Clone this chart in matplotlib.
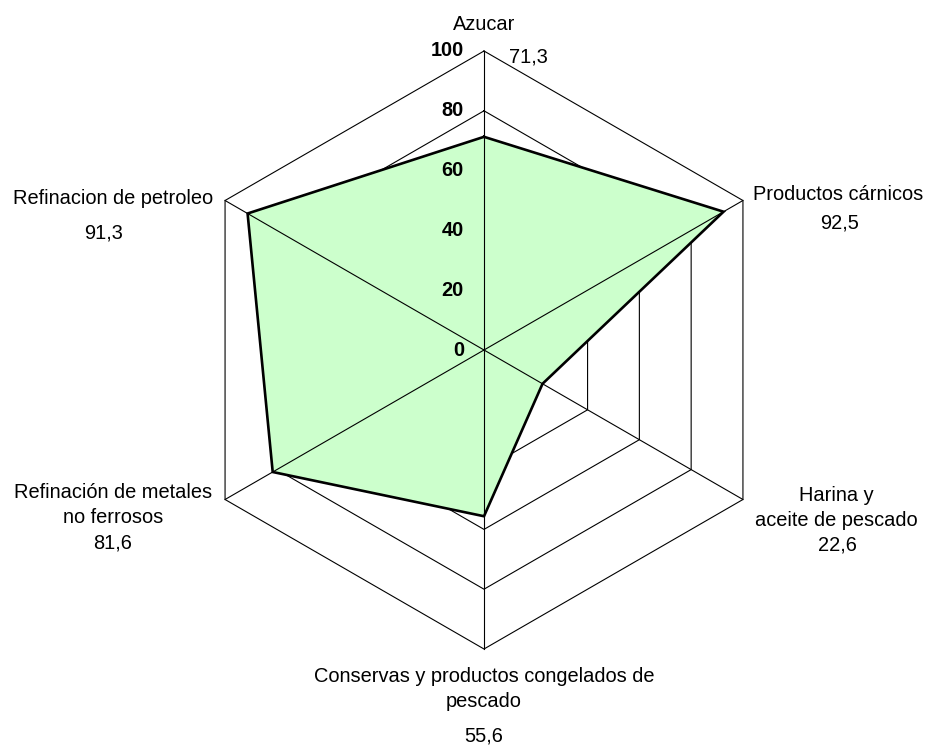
import numpy as np
import matplotlib
matplotlib.use("Agg")
import matplotlib.pyplot as plt

plt.rcParams['font.family'] = ['Liberation Sans', 'DejaVu Sans']

categories = ["Azucar", "Productos cárnicos", "Harina y\naceite de pescado",
              "Conservas y productos congelados de\npescado",
              "Refinación de metales\nno ferrosos", "Refinacion de petroleo"]
values = [71.3, 92.5, 22.6, 55.6, 81.6, 91.3]
value_labels = ["71,3", "92,5", "22,6", "55,6", "81,6", "91,3"]
ring_levels = [20, 40, 60, 80, 100]
radial_ticks = [0, 20, 40, 60, 80, 100]

W, H = 930, 747
cx, cy = 484, 350          # centre in pixels (from top)
s = 2.99                   # pixels per unit

fig = plt.figure(figsize=(W / 100, H / 100), dpi=100)
ax = fig.add_axes([0, 0, 1, 1])
ax.set_xlim(-cx / s, (W - cx) / s)
ax.set_ylim(-(H - cy) / s, cy / s)
ax.axis('off')

n = len(categories)
ang = np.deg2rad(90 - 360 / n * np.arange(n))
cosa, sina = np.cos(ang), np.sin(ang)

# rings
for r in ring_levels:
    xs = np.append(r * cosa, r * cosa[0])
    ys = np.append(r * sina, r * sina[0])
    ax.plot(xs, ys, color='black', lw=0.8, zorder=1)

# fill
v = np.array(values)
px = v * cosa
py = v * sina
ax.fill(px, py, color='#CCFFCC', zorder=2, lw=0)

# spokes
for c, sn in zip(cosa, sina):
    ax.plot([0, 100 * c], [0, 100 * sn], color='black', lw=0.8, zorder=3)

# outline
ax.plot(np.append(px, px[0]), np.append(py, py[0]), color='black', lw=1.9,
        zorder=4, solid_joinstyle='miter')

fs = 14.4

def P(xp, yp):
    return ((xp - cx) / s, (cy - yp) / s)

# radial tick labels
for t in radial_ticks:
    x, y = P(464, cy - t * s)
    ax.text(x, y, str(t), ha='right', va='center', fontsize=fs,
            fontweight='bold', zorder=5)

# category labels: (centre x, first line y) in pixels, value label position
cat_pos = [
    (484, 25),
    (838, 195),
    (836, 495),
    (484, 676),
    (113, 492),
    (113, 198),
]
val_pos = [
    (528, 57),
    (840, 223),
    (837, 545),
    (484, 736),
    (113, 543),
    (104, 233),
]
line_gap = 25.5
for lab, (xp, yp), vl, (vx, vy) in zip(categories, cat_pos, value_labels, val_pos):
    for k, line in enumerate(lab.split("\n")):
        x, y = P(xp, yp + k * line_gap)
        ax.text(x, y, line, ha='center', va='center', fontsize=fs)
    x, y = P(vx, vy)
    ax.text(x, y, vl, ha='center', va='center', fontsize=fs)

fig.savefig("out.png", dpi=100, facecolor='white')
